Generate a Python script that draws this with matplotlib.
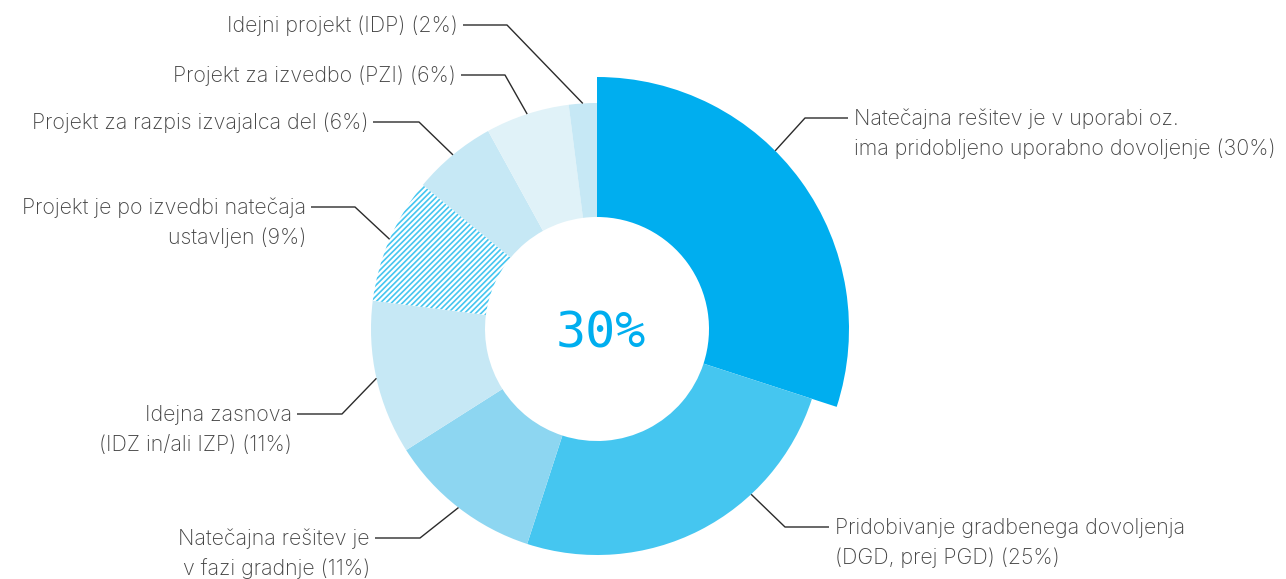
import numpy as np
import matplotlib
matplotlib.use("Agg")
import matplotlib.pyplot as plt

# ---- data ----
labels = [
    "Natečajna rešitev je v uporabi oz.\nima pridobljeno uporabno dovoljenje (30%)",
    "Pridobivanje gradbenega dovoljenja\n(DGD, prej PGD) (25%)",
    "Natečajna rešitev je\nv fazi gradnje (11%)",
    "Idejna zasnova\n(IDZ in/ali IZP) (11%)",
    "Projekt je po izvedbi natečaja\nustavljen (9%)",
    "Projekt za razpis izvajalca del (6%)",
    "Projekt za izvedbo (PZI) (6%)",
    "Idejni projekt (IDP) (2%)",
]
values = [30, 25, 11, 11, 9, 6, 6, 2]
center_label = "30%"

# ---- style / layout ----
colors = ["#00AEEF", "#45C6F0", "#8DD6F1", "#C6E8F5", "#FFFFFF", "#C6E8F5", "#E0F2F8", "#C6E8F5"]
hatches = [None, None, None, None, "//////", None, None, None]
hatch_color = "#45C6F0"
W, H = 1286, 579
cx, cy = 597, H - 329
r_out, r_in, r_big = 226, 112, 252
# leader: (anchor angle override or None, elbow x, elbow y(px from top), horiz end x, ha)
leaders = [
    (45, 805, 118, 848, "left"),
    (-47, 785, 527, 829, "left"),
    (None, 420, 538, 375, "right"),
    (None, 342, 414, 297, "right"),
    (None, 355, 207, 311, "right"),
    (None, 419, 122, 373, "right"),
    (None, 505, 75, 461, "right"),
    (None, 507, 25, 463, "right"),
]
text_color = "#444444"
line_color = "#2b2b2b"

plt.rcParams["hatch.linewidth"] = 1.2
plt.rcParams["font.family"] = ["Inter", "DejaVu Sans"]

fig = plt.figure(figsize=(W / 100, H / 100), dpi=100)
ax = fig.add_axes([0, 0, 1, 1])

wedges, _ = ax.pie(values, colors=colors, startangle=90, counterclock=False,
                   radius=r_out, center=(cx, cy),
                   wedgeprops=dict(width=r_out - r_in, linewidth=0))
for w, h in zip(wedges, hatches):
    if h:
        w.set_hatch(h)
        w.set_edgecolor(hatch_color)
        w.set_linewidth(0)
wedges[0].set_radius(r_big)
wedges[0].set_width(r_big - r_in)

ax.set_xlim(0, W)
ax.set_ylim(0, H)
ax.set_aspect("equal")
ax.axis("off")

total = sum(values)
cum = 0
for i, (lab, v) in enumerate(zip(labels, values)):
    mid = 90 - 360 * (cum + v / 2) / total
    cum += v
    ang, ex, ey, hx, ha = leaders[i]
    if ang is None:
        ang = mid
    r = r_big if i == 0 else r_out
    ax_ = cx + r * np.cos(np.radians(ang))
    ay_ = cy + r * np.sin(np.radians(ang))
    ax.plot([ax_, ex, hx], [ay_, H - ey, H - ey], color=line_color, lw=1.0,
            solid_capstyle="butt")
    tx = hx + 6 if ha == "left" else hx - 5
    for k, ln in enumerate(lab.split("\n")):
        ax.text(tx, H - ey - 30 * k - 1, ln, ha=ha, va="center", fontsize=15.4,
                color=text_color, fontweight="light")

ax.text(cx + 4, cy - 5, center_label, ha="center", va="center", fontsize=36,
        color="#00AEEF", family="DejaVu Sans Mono")

fig.savefig("out.png", dpi=100)
